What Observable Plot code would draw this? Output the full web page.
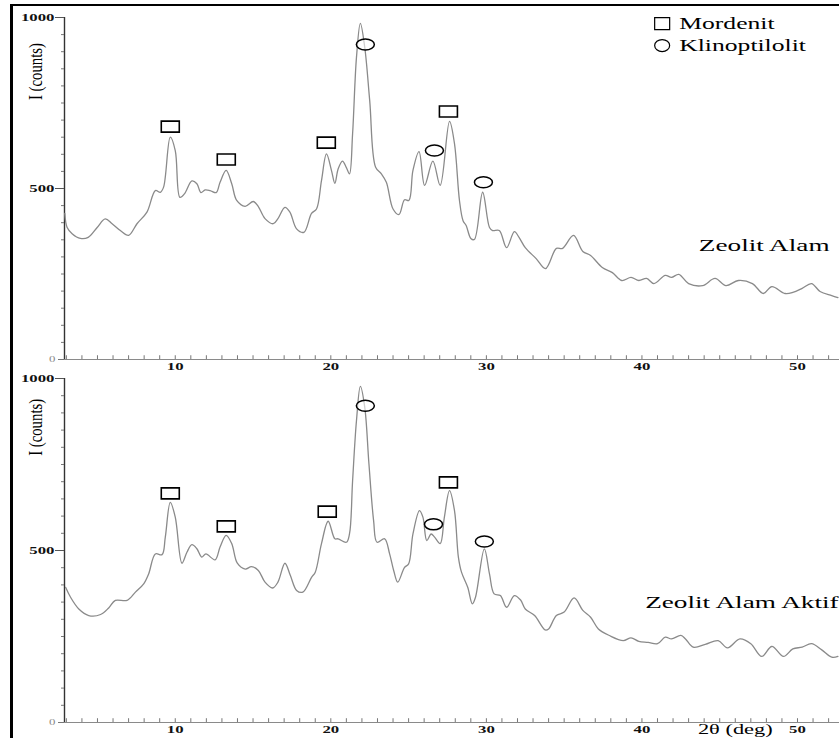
<!DOCTYPE html>
<html>
<head>
<meta charset="utf-8">
<script src="https://cdn.jsdelivr.net/npm/d3@7"></script>
<script src="https://cdn.jsdelivr.net/npm/@observablehq/plot@0.6"></script>
<style>
  body { margin: 0; background: #fff; }
  #wrap { position: relative; width: 839px; height: 738px; overflow: hidden; background: #fff; }
  #frame { position: absolute; left: 10px; top: 4px; width: 829px; height: 734px;
           border-left: 3px solid #000; border-top: 2px solid #000; box-sizing: border-box; }
  #topPanel, #botPanel { position: absolute; left: 0; }
  #topPanel { top: 0; }
  #botPanel { top: 370px; }
</style>
</head>
<body>
<div id="wrap">
  <div id="frame"></div>
  <div id="topPanel"></div>
  <div id="botPanel"></div>
</div>
<script>
// ---------- DATA ----------
// Zeolit Alam (top panel): 2θ (deg) and intensity (counts)
const alamAngle = [2.9, 3.05, 3.37, 3.9, 4.4, 4.98, 5.5, 5.94, 6.47, 7.0, 7.54, 8.18, 8.72, 9.04, 9.25, 9.68, 10.0, 10.3, 10.6, 11.07, 11.39, 11.65, 11.92, 12.24, 12.63, 12.88, 13.27, 13.63, 13.95, 14.49, 15.02, 15.34, 15.77, 16.3, 16.6, 17.05, 17.37, 17.8, 18.27, 18.76, 19.08, 19.4, 19.72, 20.04, 20.26, 20.47, 20.75, 21.0, 21.2, 21.4, 21.65, 21.9, 22.18, 22.5, 22.88, 23.25, 23.57, 24.0, 24.38, 24.74, 25.02, 25.28, 25.67, 26.03, 26.56, 27.03, 27.63, 27.95, 28.27, 28.5, 28.7, 29.0, 29.23, 29.76, 30.2, 30.4, 30.83, 31.3, 31.8, 32.1, 32.5, 33.2, 33.8, 34.5, 34.9, 35.6, 36.2, 36.7, 37.45, 38.1, 38.7, 39.3, 39.8, 40.3, 40.77, 41.5, 41.9, 42.37, 43.0, 43.9, 44.7, 45.4, 46.2, 47.1, 47.8, 48.35, 49.2, 49.7, 50.3, 50.9, 51.45, 52.2, 52.6];
const alamCounts = [427, 386, 368, 354, 357, 386, 411, 397, 377, 363, 397, 431, 494, 489, 504, 650, 611, 474, 485, 522, 514, 488, 496, 494, 488, 518, 553, 514, 465, 448, 462, 447, 412, 397, 412, 445, 431, 382, 372, 427, 440, 523, 601, 553, 515, 557, 580, 561, 543, 660, 884, 983, 913, 757, 562, 543, 518, 440, 424, 467, 465, 553, 608, 509, 580, 509, 696, 631, 465, 406, 392, 354, 351, 489, 386, 377, 377, 327, 374, 357, 327, 295, 266, 325, 325, 363, 316, 304, 269, 254, 231, 240, 231, 237, 222, 246, 240, 249, 222, 216, 237, 216, 231, 222, 193, 213, 193, 196, 208, 222, 199, 187, 181];

// Zeolit Alam Aktif (bottom panel)
const aktifAngle = [2.95, 3.27, 3.8, 4.44, 5.2, 5.72, 6.15, 6.9, 7.44, 7.97, 8.29, 8.72, 9.15, 9.36, 9.68, 10.0, 10.43, 10.75, 11.07, 11.39, 11.7, 11.97, 12.56, 12.88, 13.27, 13.63, 13.99, 14.5, 14.9, 15.34, 15.77, 16.26, 16.6, 17.05, 17.4, 17.8, 18.2, 18.76, 19.0, 19.4, 19.83, 20.26, 20.47, 21.0, 21.2, 21.4, 21.65, 21.9, 22.18, 22.45, 22.75, 22.97, 23.46, 23.78, 24.04, 24.3, 24.74, 25.0, 25.28, 25.7, 25.92, 26.17, 26.45, 26.67, 27.03, 27.3, 27.63, 27.95, 28.2, 28.4, 28.8, 29.1, 29.3, 29.87, 30.2, 30.5, 30.9, 31.3, 31.8, 32.2, 32.5, 33.1, 33.78, 34.0, 34.5, 35.0, 35.64, 36.2, 36.7, 37.2, 37.9, 38.8, 39.3, 39.8, 40.4, 41.0, 41.5, 41.9, 42.5, 42.8, 43.3, 44.07, 44.9, 45.5, 46.3, 47.0, 47.7, 48.35, 49.1, 49.7, 50.3, 50.9, 51.56, 52.2, 52.6];
const aktifCounts = [393, 364, 330, 311, 314, 333, 355, 355, 379, 403, 432, 490, 488, 539, 640, 597, 463, 495, 517, 505, 481, 490, 473, 510, 544, 520, 463, 446, 453, 442, 408, 391, 408, 463, 427, 384, 379, 422, 437, 520, 585, 534, 534, 524, 548, 703, 878, 977, 917, 752, 587, 524, 534, 490, 442, 408, 451, 461, 548, 616, 597, 529, 548, 539, 520, 597, 674, 616, 481, 437, 393, 345, 364, 505, 432, 374, 369, 335, 369, 356, 330, 311, 269, 272, 311, 321, 362, 326, 306, 272, 253, 238, 246, 236, 233, 229, 248, 243, 253, 243, 219, 227, 238, 217, 243, 229, 192, 221, 192, 214, 219, 229, 211, 190, 192];

// Phase markers (position of marker, 2θ and counts)
const mordenitAlamAngle = [9.68, 13.28, 19.71, 27.56];
const mordenitAlamCounts = [681, 585, 634, 725];
const klinoAlamAngle = [22.22, 26.66, 29.81];
const klinoAlamCounts = [921, 611, 518];

const mordenitAktifAngle = [9.68, 13.28, 19.77, 27.56];
const mordenitAktifCounts = [666, 570, 613, 698];
const klinoAktifAngle = [22.22, 26.6, 29.87];
const klinoAktifCounts = [921, 576, 526];

// Axis ticks / labels
const xMajorTicks = [10, 20, 30, 40, 50];
const xMinorTicks = d3.range(3, 53, 1);
const yMajorTicks = [500, 1000];
const yZeroTick = [0];
const yMinorTicks = d3.range(0, 1001, 50);
const legendLabels = ["Mordenit", "Klinoptilolit"];
const panelNames = ["Zeolit Alam", "Zeolit Alam Aktif"];
const yLabel = "I (counts)";
const xLabel = "2θ (deg)";

// ---------- SYMBOLS ----------
const box = (w, h) => ({draw(ctx) {
  ctx.moveTo(-w / 2, -h / 2); ctx.lineTo(w / 2, -h / 2);
  ctx.lineTo(w / 2, h / 2); ctx.lineTo(-w / 2, h / 2); ctx.closePath();
}});
const oval = (w, h) => ({draw(ctx) {
  const rx = w / 2, ry = h / 2, k = 0.5523;
  ctx.moveTo(rx, 0);
  ctx.bezierCurveTo(rx, ry * k, rx * k, ry, 0, ry);
  ctx.bezierCurveTo(-rx * k, ry, -rx, ry * k, -rx, 0);
  ctx.bezierCurveTo(-rx, -ry * k, -rx * k, -ry, 0, -ry);
  ctx.bezierCurveTo(rx * k, -ry, rx, -ry * k, rx, 0);
  ctx.closePath();
}});

const SERIF = "Liberation Serif";
const plain = d => String(d);

function panel({angle, counts, mX, mY, kX, kY, name, nameAt, height, marginTop, marginBottom, legend, xTitle}) {
  const rows = angle.map((a, i) => ({a, c: counts[i]}));
  const marks = [
    Plot.ruleY([0], {stroke: "#8a8a8a", strokeWidth: 1.2}),
    Plot.ruleX([2.88], {stroke: "#333", strokeWidth: 1.4}),
    Plot.ruleX(xMinorTicks, {y1: 0, y2: 11, stroke: "#777", strokeWidth: 1}),
    Plot.axisY(yMinorTicks, {tickSize: 3, tickFormat: () => "", stroke: "#777", label: null}),
    Plot.axisY(yMajorTicks, {tickSize: 9, tickPadding: 1, tickFormat: plain, fontSize: 10.5, fontWeight: "bold",
      fontFamily: SERIF, fill: "#111", stroke: "#555", label: null}),
    Plot.axisY(yZeroTick, {tickSize: 6, tickPadding: 3, tickFormat: plain, fontSize: 8, fontFamily: SERIF,
      fill: "#888", stroke: "#777", label: null}),
    Plot.axisX(xMajorTicks, {tickSize: 0, tickPadding: 3, tickFormat: plain, fontSize: 10.5, fontWeight: "bold",
      fontFamily: SERIF, fill: "#111", label: null}),
    Plot.text([yLabel], {x: [2.88], y: [nameAt.ylab], dx: -28, rotate: -90, fontSize: 18,
      fontFamily: SERIF, fill: "#000"}),
    Plot.line(rows, {x: "a", y: "c", stroke: "#8a8a8a", strokeWidth: 1.3, curve: "catmull-rom"}),
    Plot.dot(mX.map((x, i) => ({x, y: mY[i]})), {x: "x", y: "y", symbol: box(18, 11),
      fill: "white", fillOpacity: 0.6, stroke: "#000", strokeWidth: 1.6}),
    Plot.dot(kX.map((x, i) => ({x, y: kY[i]})), {x: "x", y: "y", symbol: oval(18, 11),
      fill: "white", fillOpacity: 0.6, stroke: "#000", strokeWidth: 1.5}),
    Plot.text([name], {x: [nameAt.x], y: [nameAt.y], textAnchor: "end", fontSize: 17,
      fontFamily: SERIF, fill: "#000"})
  ];
  if (legend) {
    marks.push(
      Plot.dot([0], {x: [41.3], y: [982], symbol: box(15, 12), fill: "none", stroke: "#000", strokeWidth: 1.2}),
      Plot.dot([0], {x: [41.3], y: [918], symbol: oval(15, 12), fill: "none", stroke: "#000", strokeWidth: 1.2}),
      Plot.text(legendLabels, {x: [42.4, 42.4], y: [982, 918], textAnchor: "start", fontSize: 16,
        fontFamily: SERIF, fill: "#000"})
    );
  }
  if (xTitle) {
    marks.push(Plot.text([xTitle], {x: [46.0], y: [0], dy: 7, textAnchor: "middle", fontSize: 14,
      fontFamily: SERIF, fill: "#000"}));
  }
  return Plot.plot({
    width: 839, height, marginLeft: 64, marginRight: 0, marginTop, marginBottom,
    style: {fontFamily: SERIF, background: "transparent", overflow: "visible"},
    x: {domain: [2.88, 52.7]},
    y: {domain: [0, 1000]},
    marks
  });
}

// The reference scan is stretched horizontally: widen horizontal texts,
// and compress rotated (vertical) text along its length.
function stretch(svg, k, kRot) {
  svg.querySelectorAll("text").forEach(t => {
    const tr = t.getAttribute("transform") || "";
    const f = tr.includes("rotate") ? kRot : k;
    const L = t.getComputedTextLength();
    if (L > 0) {
      t.setAttribute("textLength", (L * f).toFixed(1));
      t.setAttribute("lengthAdjust", "spacingAndGlyphs");
    }
  });
}

const topChart = panel({
  angle: alamAngle, counts: alamCounts,
  mX: mordenitAlamAngle, mY: mordenitAlamCounts, kX: klinoAlamAngle, kY: klinoAlamCounts,
  name: panelNames[0], nameAt: {x: 52.06, y: 333, ylab: 842},
  height: 380, marginTop: 17, marginBottom: 21, legend: true, xTitle: null
});
document.getElementById("topPanel").appendChild(topChart);

const botChart = panel({
  angle: aktifAngle, counts: aktifCounts,
  mX: mordenitAktifAngle, mY: mordenitAktifCounts, kX: klinoAktifAngle, kY: klinoAktifCounts,
  name: panelNames[1], nameAt: {x: 52.64, y: 349, ylab: 858},
  height: 368, marginTop: 8, marginBottom: 16, legend: false, xTitle: xLabel
});
document.getElementById("botPanel").appendChild(botChart);

stretch(topChart, 1.6, 0.82);
stretch(botChart, 1.6, 0.82);
</script>
</body>
</html>
